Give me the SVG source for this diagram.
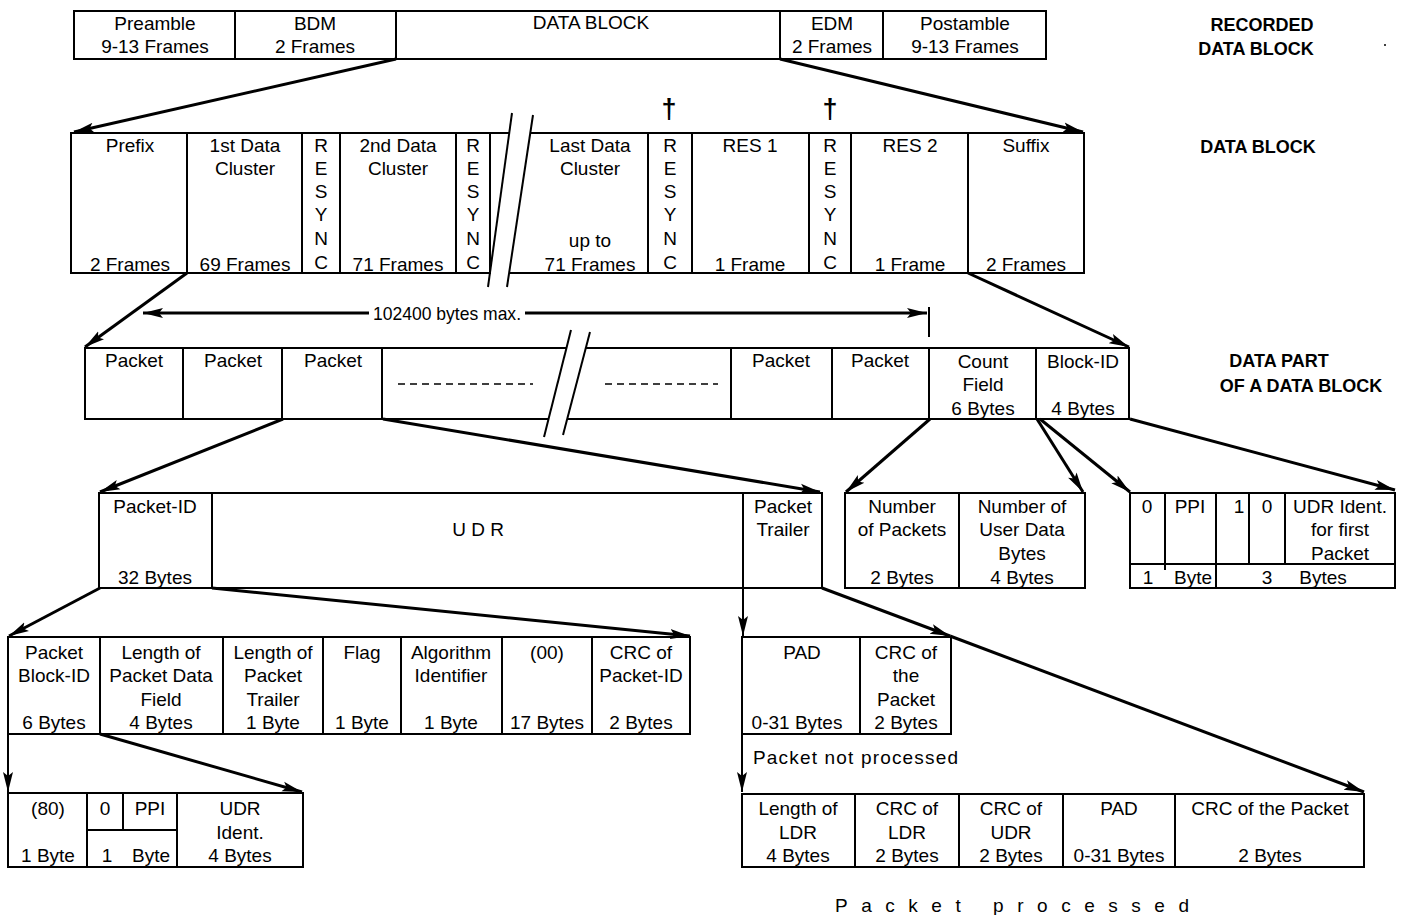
<svg xmlns="http://www.w3.org/2000/svg" width="1406" height="915" viewBox="0 0 1406 915">
<style>
.b{fill:none;stroke:#000;stroke-width:2}
.l{stroke:#000;stroke-width:2;fill:none}
.c{stroke:#000;stroke-width:3;fill:none;marker-end:url(#ah)}
.v{stroke:#000;stroke-width:2;fill:none;marker-end:url(#ah)}
text{font-family:"Liberation Sans",Arial,sans-serif;font-size:19px;text-anchor:middle;fill:#000}
.h{font-weight:bold;font-size:18px}
.s{text-anchor:start}
</style>
<defs>
<marker id="ah" markerUnits="userSpaceOnUse" markerWidth="22" markerHeight="12" refX="20" refY="6" orient="auto">
<path d="M0,1 L20,6 L0,11 L4,6 Z" fill="#000"/>
</marker>
</defs>
<rect width="1406" height="915" fill="#fff"/>

<g id="recorded-data-block">
<rect class="b" x="74" y="11" width="972" height="48"/>
<line class="l" x1="235" y1="11" x2="235" y2="59"/>
<line class="l" x1="396" y1="11" x2="396" y2="59"/>
<line class="l" x1="780" y1="11" x2="780" y2="59"/>
<line class="l" x1="883" y1="11" x2="883" y2="59"/>
<text x="155" y="30">Preamble</text><text x="155" y="53">9-13 Frames</text>
<text x="315" y="30">BDM</text><text x="315" y="53">2 Frames</text>
<text x="591" y="29">DATA BLOCK</text>
<text x="832" y="30">EDM</text><text x="832" y="53">2 Frames</text>
<text x="965" y="30">Postamble</text><text x="965" y="53">9-13 Frames</text>
</g>
<g id="label-recorded">
<text class="h" x="1262" y="31">RECORDED</text>
<text class="h" x="1256" y="55">DATA BLOCK</text>
<circle cx="1385" cy="45" r="1" fill="#000"/>
</g>

<g id="data-block">
<rect class="b" x="71" y="133" width="116" height="140"/>
<rect class="b" x="187" y="133" width="115" height="140"/>
<rect class="b" x="302" y="133" width="38" height="140"/>
<rect class="b" x="340" y="133" width="116" height="140"/>
<rect class="b" x="456" y="133" width="34" height="140"/>
<line class="l" x1="490" y1="133" x2="509" y2="133"/>
<line class="l" x1="512" y1="113" x2="488" y2="287"/>
<line class="l" x1="533" y1="115" x2="507" y2="287"/>
<line class="l" x1="530" y1="133" x2="648" y2="133"/>
<line class="l" x1="509" y1="273" x2="648" y2="273"/>
<rect class="b" x="648" y="133" width="44" height="140"/>
<rect class="b" x="692" y="133" width="117" height="140"/>
<rect class="b" x="809" y="133" width="42" height="140"/>
<rect class="b" x="851" y="133" width="117" height="140"/>
<rect class="b" x="968" y="133" width="116" height="140"/>
<text x="130" y="152">Prefix</text><text x="130" y="271">2 Frames</text>
<text x="245" y="152">1st Data</text><text x="245" y="175">Cluster</text><text x="245" y="271">69 Frames</text>
<text x="321" y="152">R</text><text x="321" y="175">E</text><text x="321" y="198">S</text><text x="321" y="221">Y</text><text x="321" y="245">N</text><text x="321" y="269">C</text>
<text x="398" y="152">2nd Data</text><text x="398" y="175">Cluster</text><text x="398" y="271">71 Frames</text>
<text x="473" y="152">R</text><text x="473" y="175">E</text><text x="473" y="198">S</text><text x="473" y="221">Y</text><text x="473" y="245">N</text><text x="473" y="269">C</text>
<text x="590" y="152">Last Data</text><text x="590" y="175">Cluster</text><text x="590" y="247">up to</text><text x="590" y="271">71 Frames</text>
<text x="670" y="152">R</text><text x="670" y="175">E</text><text x="670" y="198">S</text><text x="670" y="221">Y</text><text x="670" y="245">N</text><text x="670" y="269">C</text>
<text x="750" y="152">RES 1</text><text x="750" y="271">1 Frame</text>
<text x="830" y="152">R</text><text x="830" y="175">E</text><text x="830" y="198">S</text><text x="830" y="221">Y</text><text x="830" y="245">N</text><text x="830" y="269">C</text>
<text x="910" y="152">RES 2</text><text x="910" y="271">1 Frame</text>
<text x="1026" y="152">Suffix</text><text x="1026" y="271">2 Frames</text>
<text x="669" y="118" style="font-size:27px;font-weight:bold">†</text>
<text x="830" y="118" style="font-size:27px;font-weight:bold">†</text>
</g>
<g id="label-data-block">
<text class="h" x="1258" y="153">DATA BLOCK</text>
</g>

<g id="data-part">
<rect class="b" x="85" y="348" width="98" height="71"/>
<rect class="b" x="183" y="348" width="99" height="71"/>
<rect class="b" x="282" y="348" width="100" height="71"/>
<line class="l" x1="382" y1="348" x2="566.5" y2="348"/>
<line class="l" x1="382" y1="419" x2="548.6" y2="419"/>
<line class="l" x1="571" y1="330" x2="544" y2="437"/>
<line class="l" x1="590" y1="332" x2="563" y2="435"/>
<line class="l" x1="585.8" y1="348" x2="731" y2="348"/>
<line class="l" x1="567.2" y1="419" x2="731" y2="419"/>
<line x1="398" y1="384" x2="533" y2="384" stroke="#000" stroke-width="1.5" stroke-dasharray="7 5"/>
<line x1="605" y1="384" x2="718" y2="384" stroke="#000" stroke-width="1.5" stroke-dasharray="7 5"/>
<rect class="b" x="731" y="348" width="101" height="71"/>
<rect class="b" x="832" y="348" width="97" height="71"/>
<rect class="b" x="929" y="348" width="107" height="71"/>
<rect class="b" x="1036" y="348" width="93" height="71"/>
<text x="134" y="367">Packet</text>
<text x="233" y="367">Packet</text>
<text x="333" y="367">Packet</text>
<text x="781" y="367">Packet</text>
<text x="880" y="367">Packet</text>
<text x="983" y="368">Count</text><text x="983" y="391">Field</text><text x="983" y="415">6 Bytes</text>
<text x="1083" y="368">Block-ID</text><text x="1083" y="415">4 Bytes</text>
</g>
<g id="label-data-part">
<text class="h" x="1279" y="367">DATA PART</text>
<text class="h" x="1301" y="392">OF A DATA BLOCK</text>
</g>

<g id="packet">
<rect class="b" x="99" y="493" width="113" height="95"/>
<rect class="b" x="212" y="493" width="531" height="95"/>
<rect class="b" x="743" y="493" width="79" height="95"/>
<text x="155" y="513">Packet-ID</text><text x="155" y="584">32 Bytes</text>
<text x="478" y="536">U D R</text>
<text x="783" y="513">Packet</text><text x="783" y="536">Trailer</text>
</g>

<g id="count-field">
<rect class="b" x="845" y="493" width="114" height="95"/>
<rect class="b" x="959" y="493" width="126" height="95"/>
<text x="902" y="513">Number</text><text x="902" y="536">of Packets</text><text x="902" y="584">2 Bytes</text>
<text x="1022" y="513">Number of</text><text x="1022" y="536">User Data</text><text x="1022" y="560">Bytes</text><text x="1022" y="584">4 Bytes</text>
</g>

<g id="block-id">
<rect class="b" x="1130" y="493" width="265" height="95"/>
<line class="l" x1="1130" y1="564" x2="1395" y2="564"/>
<line class="l" x1="1165" y1="493" x2="1165" y2="570"/>
<line class="l" x1="1216" y1="493" x2="1216" y2="588"/>
<line class="l" x1="1249" y1="493" x2="1249" y2="564"/>
<line class="l" x1="1285" y1="493" x2="1285" y2="564"/>
<text x="1147" y="513">0</text>
<text x="1190" y="513">PPI</text>
<text x="1239" y="513">1</text>
<text x="1267" y="513">0</text>
<text x="1340" y="513">UDR Ident.</text><text x="1340" y="536">for first</text><text x="1340" y="560">Packet</text>
<text x="1148" y="584">1</text><text x="1193" y="584">Byte</text>
<text x="1267" y="584">3</text><text x="1323" y="584">Bytes</text>
</g>

<g id="packet-id">
<rect class="b" x="8" y="637" width="682" height="97"/>
<line class="l" x1="100" y1="637" x2="100" y2="734"/>
<line class="l" x1="223" y1="637" x2="223" y2="734"/>
<line class="l" x1="323" y1="637" x2="323" y2="734"/>
<line class="l" x1="401" y1="637" x2="401" y2="734"/>
<line class="l" x1="502" y1="637" x2="502" y2="734"/>
<line class="l" x1="592" y1="637" x2="592" y2="734"/>
<text x="54" y="659">Packet</text><text x="54" y="682">Block-ID</text><text x="54" y="729">6 Bytes</text>
<text x="161" y="659">Length of</text><text x="161" y="682">Packet Data</text><text x="161" y="706">Field</text><text x="161" y="729">4 Bytes</text>
<text x="273" y="659">Length of</text><text x="273" y="682">Packet</text><text x="273" y="706">Trailer</text><text x="273" y="729">1 Byte</text>
<text x="362" y="659">Flag</text><text x="362" y="729">1 Byte</text>
<text x="451" y="659">Algorithm</text><text x="451" y="682">Identifier</text><text x="451" y="729">1 Byte</text>
<text x="547" y="659">(00)</text><text x="547" y="729">17 Bytes</text>
<text x="641" y="659">CRC of</text><text x="641" y="682">Packet-ID</text><text x="641" y="729">2 Bytes</text>
</g>

<g id="packet-trailer-unprocessed">
<rect class="b" x="742" y="637" width="118" height="97"/>
<rect class="b" x="860" y="637" width="91" height="97"/>
<text x="802" y="659">PAD</text><text x="797" y="729">0-31 Bytes</text>
<text x="906" y="659">CRC of</text><text x="906" y="682">the</text><text x="906" y="706">Packet</text><text x="906" y="729">2 Bytes</text>
<text class="s" x="753" y="764" textLength="205" lengthAdjust="spacing">Packet not processed</text>
</g>

<g id="block-id-detail">
<rect class="b" x="8" y="793" width="295" height="74"/>
<line class="l" x1="87" y1="793" x2="87" y2="867"/>
<line class="l" x1="177" y1="793" x2="177" y2="867"/>
<line class="l" x1="123" y1="793" x2="123" y2="830"/>
<line class="l" x1="87" y1="830" x2="177" y2="830"/>
<text x="48" y="815">(80)</text><text x="48" y="862">1 Byte</text>
<text x="105" y="815">0</text><text x="150" y="815">PPI</text>
<text x="107" y="862">1</text><text x="151" y="862">Byte</text>
<text x="240" y="815">UDR</text><text x="240" y="839">Ident.</text><text x="240" y="862">4 Bytes</text>
</g>

<g id="packet-trailer-processed">
<rect class="b" x="742" y="794" width="113" height="73"/>
<rect class="b" x="855" y="794" width="104" height="73"/>
<rect class="b" x="959" y="794" width="104" height="73"/>
<rect class="b" x="1063" y="794" width="112" height="73"/>
<rect class="b" x="1175" y="794" width="189" height="73"/>
<text x="798" y="815">Length of</text><text x="798" y="839">LDR</text><text x="798" y="862">4 Bytes</text>
<text x="907" y="815">CRC of</text><text x="907" y="839">LDR</text><text x="907" y="862">2 Bytes</text>
<text x="1011" y="815">CRC of</text><text x="1011" y="839">UDR</text><text x="1011" y="862">2 Bytes</text>
<text x="1119" y="815">PAD</text><text x="1119" y="862">0-31 Bytes</text>
<text x="1270" y="815">CRC of the Packet</text><text x="1270" y="862">2 Bytes</text>
<text x="1012" y="912" textLength="354" lengthAdjust="spacing">Packet processed</text>
</g>

<g id="connectors">
<line class="c" x1="396" y1="59" x2="74" y2="132"/>
<line class="c" x1="780" y1="59" x2="1083" y2="132"/>
<line class="c" x1="187" y1="273" x2="85" y2="347"/>
<line class="c" x1="968" y1="273" x2="1129" y2="347"/>
<line class="c" x1="369" y1="313" x2="143" y2="313"/>
<line class="c" x1="525" y1="313" x2="927" y2="313"/>
<line class="l" x1="929" y1="307" x2="929" y2="337"/>
<text x="447" y="320" textLength="148" lengthAdjust="spacingAndGlyphs">102400 bytes max.</text>
<line class="c" x1="283" y1="419" x2="100" y2="492"/>
<line class="c" x1="383" y1="419" x2="820" y2="492"/>
<line class="c" x1="930" y1="419" x2="846" y2="492"/>
<line class="c" x1="1037" y1="419" x2="1083" y2="492"/>
<line class="c" x1="1040" y1="419" x2="1130" y2="492"/>
<line class="c" x1="1130" y1="419" x2="1395" y2="490"/>
<line class="c" x1="100" y1="588" x2="9" y2="636"/>
<line class="c" x1="212" y1="588" x2="690" y2="636"/>
<line class="v" x1="743" y1="588" x2="743" y2="636"/>
<line class="c" x1="822" y1="588" x2="950" y2="636"/>
<line class="c" x1="950" y1="636" x2="1364" y2="792"/>
<line class="v" x1="8" y1="734" x2="8" y2="792"/>
<line class="c" x1="100" y1="734" x2="302" y2="792"/>
<line class="v" x1="742" y1="734" x2="742" y2="792"/>
</g>
</svg>
